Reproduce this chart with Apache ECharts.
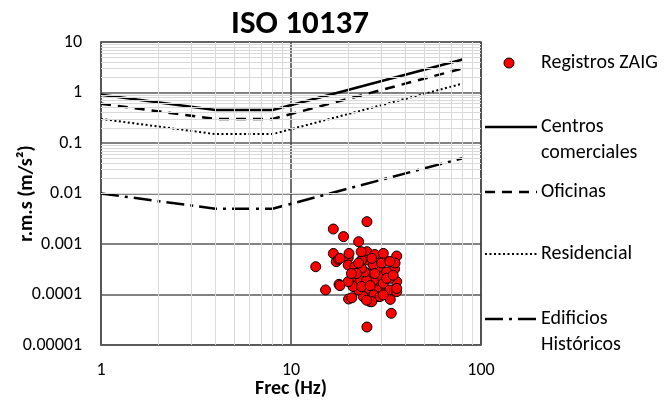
<!DOCTYPE html>
<html>
<head>
<meta charset="utf-8">
<script src="https://cdn.jsdelivr.net/npm/echarts@6/dist/echarts.min.js"></script>
<style>html,body{margin:0;padding:0;background:#fff}#c{width:666px;height:402px}</style>
</head>
<body>
<div id="c"></div>
<script>
// ---- data ----
const limitFreq = [1, 4, 8, 80];
const centrosComerciales = [0.9, 0.45, 0.45, 4.5];
const oficinas = [0.6, 0.3, 0.3, 3];
const residencial = [0.3, 0.15, 0.15, 1.5];
const edificiosHistoricos = [0.01, 0.005, 0.005, 0.05];

const zaigFreq = [25.1,16.7,18.9,22.7,16.7,17.3,13.5,15.2,17.9,20.1,20.9,33.7,25.1,20.0,20.0,17.8,25.1,36.0,35.1,36.0,33.3,26.1,28.2,31.3,29.4,25.2,25.2,21.0,22.7,25.2,27.8,31.3,34.5,29.4,33.1,24.0,23.1,27.1,27.1,21.7,23.5,28.8,31.9,35.3,23.4,27.6,30.6,22.6,30.6,33.1,28.2,25.0,21.2,24.4,36.0,30.0,26.6,31.9,20.0,18.1,27.3,29.4,23.5,26.1,36.0,33.1,23.5,27.6,22.1,20.8,18.1,20.2,34.5,26.6,25.0,30.6,22.7];
const zaigRms = [0.00277,0.00198,0.0014,0.00111,0.00065,0.000447,0.000355,0.000123,0.000159,0.0000815,0.000086,0.0000424,0.0000227,0.000536,0.000384,0.000498,0.000705,0.000578,0.00032,0.00018,0.00008,0.000072,0.000091,0.000475,0.00033,0.000482,0.000263,0.0002,0.000139,0.000132,0.000139,0.000119,0.000123,0.000225,0.000209,0.000091,0.00018,0.000384,0.00019,0.000355,0.00048,0.00056,0.00028,0.00042,0.000705,0.00062,0.00065,0.000123,0.000166,0.000123,0.000123,0.00019,0.000144,0.00028,0.000114,0.00042,0.00052,0.00021,0.00018,0.00015,0.000098,0.000091,0.000144,0.00015,0.000132,0.00045,0.00033,0.00026,0.00026,0.00026,0.00052,0.00065,0.00024,0.000072,0.000077,0.000098,0.00042];

const xTickLabels = ['1', '10', '100'];
const yTickLabels = ['0.00001', '0.0001', '0.001', '0.01', '0.1', '1', '10'];

// ---- build ----
const FONT = 'Carlito, Lato, sans-serif';
const pair = (xs, ys) => xs.map((x, i) => [x, ys[i]]);

const minorX = [], minorY = [];
for (let d = 0; d < 2; d++) for (let k = 2; k <= 9; k++) minorX.push({ xAxis: k * Math.pow(10, d) });
for (let d = -5; d < 1; d++) for (let k = 2; k <= 9; k++) minorY.push({ yAxis: k * Math.pow(10, d) });

const chart = echarts.init(document.getElementById('c'), null, { renderer: 'canvas' });
const lineBase = { type: 'line', symbol: 'none', z: 3, silent: true };
const LEG = '20px ' + FONT;
chart.setOption({
  animation: false,
  backgroundColor: '#fff',
  textStyle: { fontFamily: FONT },
  title: {
    text: 'ISO 10137', left: 295, top: 3, textAlign: 'center',
    textStyle: { fontFamily: FONT, fontWeight: 'bold', fontSize: 33, color: '#000' }
  },
  grid: { left: 101, right: 185, top: 42, bottom: 57, show: true, borderColor: '#595959', borderWidth: 1.5,
    containLabel: false, outerBoundsMode: 'none' },
  xAxis: {
    type: 'log', logBase: 10, min: 1, max: 100,
    name: 'Frec (Hz)', nameLocation: 'middle', nameGap: 34, nameMoveOverlap: false,
    nameTextStyle: { fontFamily: FONT, fontWeight: 'bold', fontSize: 20, color: '#000' },
    axisLine: { lineStyle: { color: '#595959', width: 1.5 } },
    axisTick: { show: false },
    axisLabel: { margin: 16, fontSize: 18, color: '#000', fontFamily: FONT,
      formatter: v => xTickLabels[Math.round(Math.log10(v))] },
    splitLine: { show: true, lineStyle: { color: '#404040', width: 1.5 } }
  },
  yAxis: {
    type: 'log', logBase: 10, min: 0.00001, max: 10,
    name: 'r.m.s (m/s²)', nameLocation: 'middle', nameGap: 64, nameMoveOverlap: false,
    nameTextStyle: { fontFamily: FONT, fontWeight: 'bold', fontSize: 20, color: '#000' },
    axisLine: { lineStyle: { color: '#595959', width: 1.5 } },
    axisTick: { show: false },
    axisLabel: { margin: 19, fontSize: 18, color: '#000', fontFamily: FONT,
      formatter: v => yTickLabels[Math.round(Math.log10(v)) + 5] },
    splitLine: { show: true, lineStyle: { color: '#595959', width: 1.5 } }
  },
  series: [
    { type: 'line', data: [], silent: true, z: 1,
      markLine: { silent: true, symbol: 'none', label: { show: false },
        lineStyle: { color: '#d9d9d9', width: 1, type: 'solid' }, data: minorX.concat(minorY) } },
    Object.assign({}, lineBase, { name: 'Centros comerciales', data: pair(limitFreq, centrosComerciales),
      lineStyle: { color: '#000', width: 2.5, type: 'solid' } }),
    Object.assign({}, lineBase, { name: 'Oficinas', data: pair(limitFreq, oficinas),
      lineStyle: { color: '#000', width: 2.5, type: [10, 7] } }),
    Object.assign({}, lineBase, { name: 'Residencial', data: pair(limitFreq, residencial),
      lineStyle: { color: '#000', width: 2, type: [2, 2.5] } }),
    Object.assign({}, lineBase, { name: 'Edificios Históricos', data: pair(limitFreq, edificiosHistoricos),
      lineStyle: { color: '#000', width: 2.5, type: [18, 6, 3, 6] } }),
    { type: 'scatter', name: 'Registros ZAIG', data: pair(zaigFreq, zaigRms), symbol: 'circle', symbolSize: 10, z: 5,
      itemStyle: { color: '#ff0000', borderColor: '#000', borderWidth: 1, opacity: 1 } }
  ],
  graphic: [
    { type: 'circle', shape: { cx: 509, cy: 63, r: 5 }, style: { fill: '#ff0000', stroke: '#000', lineWidth: 1 } },
    { type: 'text', x: 541, y: 63, style: { text: 'Registros ZAIG', font: LEG, fill: '#000', verticalAlign: 'middle' } },
    { type: 'line', shape: { x1: 485, y1: 127, x2: 537, y2: 127 }, style: { stroke: '#000', lineWidth: 2.5 } },
    { type: 'text', x: 541, y: 127, style: { text: 'Centros', font: LEG, fill: '#000', verticalAlign: 'middle' } },
    { type: 'text', x: 541, y: 153, style: { text: 'comerciales', font: LEG, fill: '#000', verticalAlign: 'middle' } },
    { type: 'line', shape: { x1: 485, y1: 192, x2: 537, y2: 192 }, style: { stroke: '#000', lineWidth: 2.5, lineDash: [10, 7] } },
    { type: 'text', x: 541, y: 192, style: { text: 'Oficinas', font: LEG, fill: '#000', verticalAlign: 'middle' } },
    { type: 'line', shape: { x1: 485, y1: 254, x2: 537, y2: 254 }, style: { stroke: '#000', lineWidth: 2, lineDash: [2, 2.5] } },
    { type: 'text', x: 541, y: 254, style: { text: 'Residencial', font: LEG, fill: '#000', verticalAlign: 'middle' } },
    { type: 'line', shape: { x1: 485, y1: 319, x2: 537, y2: 319 }, style: { stroke: '#000', lineWidth: 2.5, lineDash: [18, 6, 3, 6] } },
    { type: 'text', x: 541, y: 319, style: { text: 'Edificios', font: LEG, fill: '#000', verticalAlign: 'middle' } },
    { type: 'text', x: 541, y: 345, style: { text: 'Históricos', font: LEG, fill: '#000', verticalAlign: 'middle' } }
  ]
});
</script>
</body>
</html>
